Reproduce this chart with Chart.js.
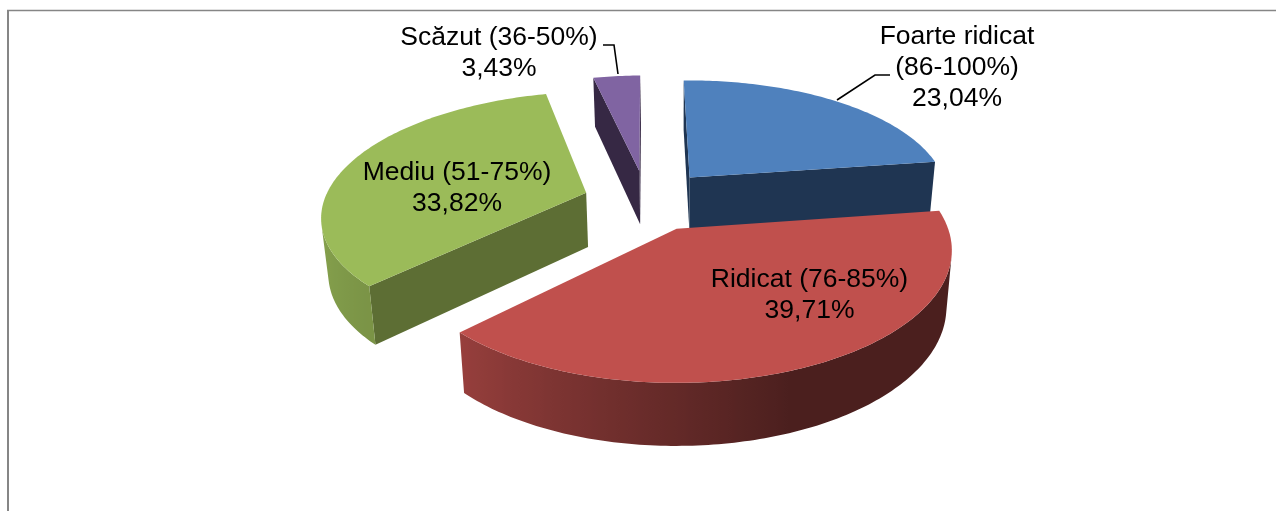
<!DOCTYPE html>
<html><head><meta charset="utf-8">
<script src="https://cdn.jsdelivr.net/npm/chart.js@4"></script>
<style>
html,body{margin:0;padding:0;background:#fff;overflow:hidden}
#w{position:absolute;left:0;top:0;width:1276px;height:511px}
canvas{display:block;filter:blur(0.35px)}
</style></head><body>
<div id="w"><canvas id="c" width="1276" height="511"></canvas></div>
<script>
// data
const categories = ["Foarte ridicat (86-100%)", "Ridicat (76-85%)", "Mediu (51-75%)", "Scăzut (36-50%)"];
const values = [23.04, 39.71, 33.82, 3.43];
// styles
const topColors = ["#4F81BD", "#C0504D", "#9BBB59", "#8064A2"];
const faceColors = ["#1F3552", "#4B1E1C", "#5D6E34", "#362844"];
const explode = [51.5, 51.5, 48.5, 51.5];
// label layout
const labelLines = [["Foarte ridicat", "(86-100%)"], ["Ridicat (76-85%)"], ["Mediu (51-75%)"], ["Scăzut (36-50%)"]];
const labelX = [957, 809.5, 457, 499];
const labelY = [36.5, 279.5, 172.5, 38];
const labelStep = 31;
const leaders = [[[890,75],[875,75],[837,100]], null, null, [[603,45],[614,45],[618,74]]];

// camera of the 3-D view
const cam = {xc:680, yh:-550, f:1645, H:780, cx:-35, cd:1710, R:272};
function project(X, D, low) {
  const s = cam.f / D;
  let x = cam.xc + s * X, y = cam.yh + s * cam.H;
  if (low) { y += 56 + 36 * (s - 1); x = cam.xc + (x - cam.xc) * 0.98; }
  return [x, y];
}
function shade(hex, k) {
  const n = parseInt(hex.slice(1), 16);
  return "rgb(" + [(n>>16)&255, (n>>8)&255, n&255].map(v => Math.round(v*k)).join(",") + ")";
}
function wallFactor(a) { // a = clockwise degrees from screen-up of the outward normal
  a = (a + 360) % 360;
  if (a <= 159) return 0.39;
  if (a <= 225) return 0.39 + (a - 159) / 66 * 0.40;
  if (a <= 270) return 0.79 + (a - 225) / 45 * 0.12;
  return 0.91;
}
function poly(ctx, pts, fill) {
  ctx.beginPath();
  pts.forEach((p, i) => i ? ctx.lineTo(p[0], p[1]) : ctx.moveTo(p[0], p[1]));
  ctx.closePath();
  ctx.fillStyle = fill;
  ctx.fill();
}
function area(q) {
  let a = 0;
  for (let i = 0; i < q.length; i++) { const p = q[i], r = q[(i+1)%q.length]; a += p[0]*r[1] - r[0]*p[1]; }
  return a;
}
const pie3d = {
  id: "pie3d",
  beforeDatasetsDraw(chart) {
    const ctx = chart.ctx, arcs = chart.getDatasetMeta(0).data;
    const slices = arcs.map((el, i) => {
      const k = cam.R / el.outerRadius, mid = (el.startAngle + el.endAngle) / 2, e = el.options.offset * k;
      const ax = cam.cx + e * Math.cos(mid), ad = cam.cd - e * Math.sin(mid);
      const n = Math.max(4, Math.round((el.endAngle - el.startAngle) * 60)), rim = [];
      for (let j = 0; j <= n; j++) {
        const t = el.startAngle + (el.endAngle - el.startAngle) * j / n;
        rim.push({t, X: ax + cam.R * Math.cos(t), D: ad - cam.R * Math.sin(t)});
      }
      return {i, ax, ad, rim};
    }).sort((a, b) => b.ad - a.ad);
    ctx.save();
    slices.forEach(sl => {
      const top = topColors[sl.i], face = faceColors[sl.i];
      const A = project(sl.ax, sl.ad), Al = project(sl.ax, sl.ad, true);
      const first = sl.rim[0], last = sl.rim[sl.rim.length - 1];
      [[first, true], [last, false]].forEach(([r, out]) => {
        const p = project(r.X, r.D), pl = project(r.X, r.D, true);
        const q = out ? [A, p, pl, Al] : [p, A, Al, pl];
        if (area(q) < 0) poly(ctx, q, face);
      });
      // visible part of the curved wall, as one shape with a gradient along x
      const upper = [], lower = [], stops = [];
      for (let j = 0; j < sl.rim.length - 1; j++) {
        const r0 = sl.rim[j], r1 = sl.rim[j+1];
        const p0 = project(r0.X, r0.D), p1 = project(r1.X, r1.D);
        const l0 = project(r0.X, r0.D, true), l1 = project(r1.X, r1.D, true);
        if (area([p0, p1, l1, l0]) < 0) {
          if (!upper.length) { upper.push(p0); lower.push(l0); }
          upper.push(p1); lower.push(l1);
          stops.push([(p0[0] + p1[0]) / 2, ((r0.t + r1.t) / 2 + Math.PI / 2) * 180 / Math.PI]);
        }
      }
      if (upper.length > 1) {
        const xs = upper.concat(lower).map(p => p[0]), x0 = Math.min(...xs), x1 = Math.max(...xs);
        const g = ctx.createLinearGradient(x0, 0, x1, 0);
        stops.forEach(s => g.addColorStop((s[0] - x0) / (x1 - x0), shade(top, wallFactor(s[1]))));
        poly(ctx, upper.concat(lower.slice().reverse()), g);
      }
      const pts = [A].concat(sl.rim.map(r => project(r.X, r.D)));
      poly(ctx, pts, top);
    });
    ctx.restore();
    return false;
  },
  afterDraw(chart) {
    const ctx = chart.ctx;
    ctx.save();
    // outer frame
    ctx.strokeStyle = "#868686";
    ctx.lineWidth = 2; ctx.beginPath(); ctx.moveTo(8, 511); ctx.lineTo(8, 10); ctx.stroke();
    ctx.lineWidth = 1.4; ctx.beginPath(); ctx.moveTo(7, 10.5); ctx.lineTo(1276, 10.5); ctx.stroke();
    // leader lines
    ctx.strokeStyle = "#000"; ctx.lineWidth = 1.6;
    leaders.forEach(l => {
      if (!l) return;
      ctx.beginPath();
      l.forEach((p, i) => i ? ctx.lineTo(p[0], p[1]) : ctx.moveTo(p[0], p[1]));
      ctx.stroke();
    });
    // labels
    ctx.fillStyle = "#000"; ctx.textAlign = "center"; ctx.textBaseline = "middle";
    ctx.font = '26.5px "Liberation Sans", Arial, sans-serif';
    categories.forEach((c, i) => {
      const lines = labelLines[i].concat([values[i].toFixed(2).replace(".", ",") + "%"]);
      lines.forEach((t, j) => ctx.fillText(t, labelX[i], labelY[i] + j * labelStep));
    });
    ctx.restore();
  }
};
new Chart(document.getElementById("c"), {
  type: "pie",
  data: {labels: categories, datasets: [{data: values, backgroundColor: topColors, borderWidth: 0, offset: explode}]},
  options: {
    responsive: false, animation: false, rotation: -1.2, radius: 200,
    layout: {padding: 0},
    plugins: {legend: {display: false}, tooltip: {enabled: false}, title: {display: false}},
    events: []
  },
  plugins: [pie3d]
});
</script>
</body></html>
